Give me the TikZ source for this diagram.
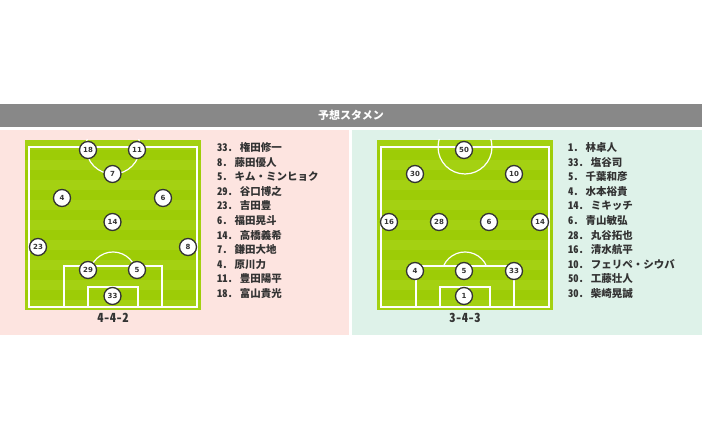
\documentclass[tikz,border=0pt]{standalone}
\usepackage{fontspec}
\newfontfamily\jpfont[RawFeature=+hwid]{Noto Sans CJK JP}
\newfontfamily\numfont{DejaVu Sans}
\usetikzlibrary{positioning}
\definecolor{pinkbg}{HTML}{FDE4E0}
\definecolor{greenbg}{HTML}{DEF2E9}
\definecolor{headgray}{HTML}{888888}
\definecolor{turf}{HTML}{9DCC06}
\definecolor{turflight}{HTML}{A4D112}
\definecolor{ink}{HTML}{333333}
\tikzset{
  pitchline/.style={draw=white, line width=1.2pt},
  player/.style={circle, draw=ink, line width=1.3pt, fill=white, minimum size=17pt,
    inner sep=0pt, text=ink, font=\numfont\bfseries\fontsize{7}{8}\selectfont},
  entry/.style={anchor=west, inner sep=0pt, text=ink,
    font=\jpfont\bfseries\fontsize{10.5}{12}\selectfont},
  formation/.style={inner sep=0pt, text=ink, font=\jpfont\bfseries\fontsize{12.5}{14}\selectfont}
}
\newcommand\drawpitch[1]{%
  \fill[turf] (#1,140) rectangle ++(176,170);
  \foreach \s in {0,2,...,16} \fill[turflight] (#1,140+10*\s) rectangle ++(176,10);
  \begin{scope}
    \clip (#1,140) rectangle ++(176,170);
    \draw[pitchline] (#1+88,147) circle[radius=27pt];
  \end{scope}
  \draw[pitchline] (#1+4,147) rectangle (#1+172,307);
  \draw[pitchline] (#1+39,307) |- (#1+137,266) -- (#1+137,307);
  \draw[pitchline] (#1+63,307) |- (#1+113,287) -- (#1+113,307);
  \draw[pitchline] (#1+66.5,266) arc[start angle=156.2, end angle=23.8, radius=23.5pt];
}
\begin{document}
\begin{tikzpicture}[x=1pt, y=-1pt]
\useasboundingbox (0,0) rectangle (702,438);
\fill[white] (0,0) rectangle (702,438);
\fill[headgray] (0,104) rectangle (702,127);
\node[text=white, font=\jpfont\bfseries\fontsize{11}{12}\selectfont] (title) at (351,115.5) {予想スタメン};
\fill[pinkbg] (0,130) rectangle (349,335);
\fill[greenbg] (352,130) rectangle (702,335);
\drawpitch{25}
\drawpitch{377}
\foreach \n/\x/\y in {18/88/150, 11/137/150, 7/112.5/174, 4/62/198, 6/163/198, 14/112.5/222,
  23/38/247, 8/188/247, 29/88/270, 5/137/270, 33/112.5/296}
  \node[player] (l\n) at (\x,\y) {\n};
\foreach \n/\x/\y in {50/464/150, 30/415/174, 10/514/174, 16/389/222, 28/439/222, 6/489/222,
  14/540/222, 4/415/271, 5/464/271, 33/514/271, 1/464/296}
  \node[player] (r\n) at (\x,\y) {\n};
\node[formation] (lform) at (113,318) {4-4-2};
\node[formation] (rform) at (465,318) {3-4-3};
\foreach \t [count=\i] in {33. 権田修一, 8. 藤田優人, 5. キム・ミンヒョク, 29. 谷口博之,
  23. 吉田豊, 6. 福田晃斗, 14. 高橋義希, 7. 鎌田大地, 4. 原川力, 11. 豊田陽平, 18. 富山貴光}
  \node[entry] (lname\i) at (217,133.2+14.56*\i) {\t};
\foreach \t [count=\i] in {1. 林卓人, 33. 塩谷司, 5. 千葉和彦, 4. 水本裕貴, 14. ミキッチ,
  6. 青山敏弘, 28. 丸谷拓也, 16. 清水航平, 10. フェリペ・シウバ, 50. 工藤壮人, 30. 柴崎晃誠}
  \node[entry] (rname\i) at (568,133.2+14.56*\i) {\t};
\end{tikzpicture}
\end{document}
